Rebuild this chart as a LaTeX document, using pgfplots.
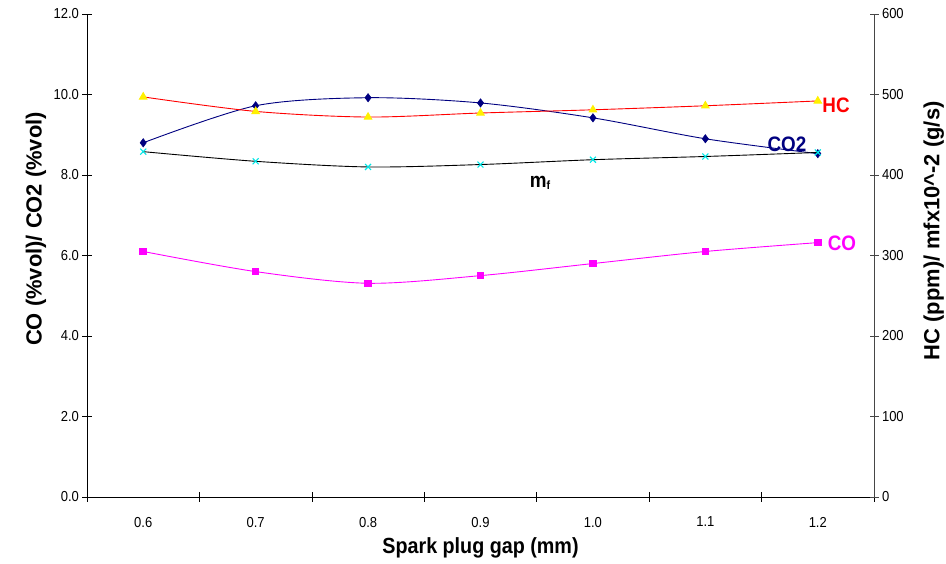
\documentclass[border=0pt]{standalone}
\usepackage{fontspec}
\setmainfont{Liberation Sans}
\newfontfamily\narrowfont{Liberation Sans}[FakeStretch=0.9]
\usepackage{pgfplots}
\pgfplotsset{compat=1.18}
\definecolor{conavy}{RGB}{0,0,128}
\definecolor{rgray}{RGB}{70,70,70}
\definecolor{mag}{RGB}{255,0,255}
\definecolor{cyn}{RGB}{0,230,230}
\definecolor{yel}{RGB}{255,240,0}
\begin{document}
\begin{tikzpicture}
\path[use as bounding box] (0,0) rectangle (946bp,564bp);
\begin{axis}[
  at={(87bp,67bp)}, anchor=south west,
  width=787bp, height=483bp, scale only axis,
  xmin=0.55, xmax=1.25, ymin=0, ymax=12,
  axis x line*=bottom, axis y line*=left,
  axis line style={black, line width=0.8bp},
  xtick={0.6,0.7,0.8,0.9,1.0,1.1,1.2},
  minor xtick={0.55,0.65,0.75,0.85,0.95,1.05,1.15,1.25},
  major x tick style={draw=none},
  minor x tick style={black, line width=0.6bp},
  ytick={0,2,4,6,8,10,12},
  y tick style={black, line width=0.6bp},
  tick align=center,
  major tick length=9bp, minor tick length=9bp,
  xticklabel style={/tikz/yshift=-12bp, /pgf/number format/.cd, fixed, fixed zerofill, precision=1},
  yticklabel style={/pgf/number format/.cd, fixed, fixed zerofill, precision=1},
  /pgf/number format/assume math mode=true,
  tick label style={font=\narrowfont\fontsize{14.5}{14.5}\selectfont, text=black},
  xlabel={Spark plug gap (mm)},
  xlabel style={font=\narrowfont\bfseries\fontsize{22}{22}\selectfont, at={(axis description cs:0.5,0)}, anchor=center, yshift=-51bp},
  ylabel={CO (\%vol)/ CO2 (\%vol)},
  ylabel style={font=\bfseries\fontsize{22}{22}\selectfont, at={(axis description cs:-0.0648,0.555)}, anchor=center},
  clip=false,
]
\addplot[conavy, line width=0.9bp, smooth, tension=0.5, mark=diamond*, mark size=4.2bp, mark options={fill=conavy, draw=conavy, line width=0.5bp}]
  coordinates {(0.6,8.80) (0.7,9.72) (0.8,9.92) (0.9,9.79) (1.0,9.42) (1.1,8.90) (1.2,8.53)};
\addplot[mag, line width=0.9bp, smooth, tension=0.5, mark=square*, mark size=3.3bp, mark options={fill=mag, draw=mag}]
  coordinates {(0.6,6.10) (0.7,5.60) (0.8,5.31) (0.9,5.50) (1.0,5.80) (1.1,6.10) (1.2,6.32)};
\end{axis}
\begin{axis}[
  at={(87bp,67bp)}, anchor=south west,
  width=787bp, height=483bp, scale only axis,
  xmin=0.55, xmax=1.25, ymin=0, ymax=600,
  axis x line=none, axis y line*=right,
  axis line style={rgray, line width=0.9bp},
  ytick={0,100,200,300,400,500,600},
  y tick style={rgray, line width=0.6bp},
  tick align=center, major tick length=9bp,
  /pgf/number format/assume math mode=true,
  tick label style={font=\narrowfont\fontsize{14.5}{14.5}\selectfont, text=black},
  ylabel={HC (ppm)/ mfx10\textasciicircum-2 (g/s)},
  ylabel style={font=\bfseries\fontsize{22}{22}\selectfont, at={(axis description cs:1.076,0.551)}, anchor=center, rotate=0},
  clip=false,
]
\addplot[red, line width=0.9bp, smooth, tension=0.5, mark=triangle*, mark size=4.3bp, mark options={fill=yel, draw=yel}]
  coordinates {(0.6,497) (0.7,479) (0.8,472) (0.9,477) (1.0,481) (1.1,486) (1.2,492)};
\addplot[black, line width=0.9bp, smooth, tension=0.5, mark=x, mark size=4.2bp, mark options={draw=cyn, line width=1.1bp}]
  coordinates {(0.6,429) (0.7,417) (0.8,410) (0.9,413) (1.0,419) (1.1,423) (1.2,428)};
\end{axis}
\node[font=\narrowfont\bfseries\fontsize{21}{21}\selectfont, text=red] at (836bp,459bp) {HC};
\node[font=\narrowfont\bfseries\fontsize{21}{21}\selectfont, text=conavy] at (787bp,420bp) {CO2};
\node[font=\narrowfont\bfseries\fontsize{21}{21}\selectfont, text=mag] at (842bp,321bp) {CO};
\node[font=\narrowfont\bfseries\fontsize{21}{21}\selectfont, text=black] at (540bp,381bp) {m\raisebox{-2bp}{\fontsize{12}{12}\selectfont f}};
\end{tikzpicture}
\end{document}
